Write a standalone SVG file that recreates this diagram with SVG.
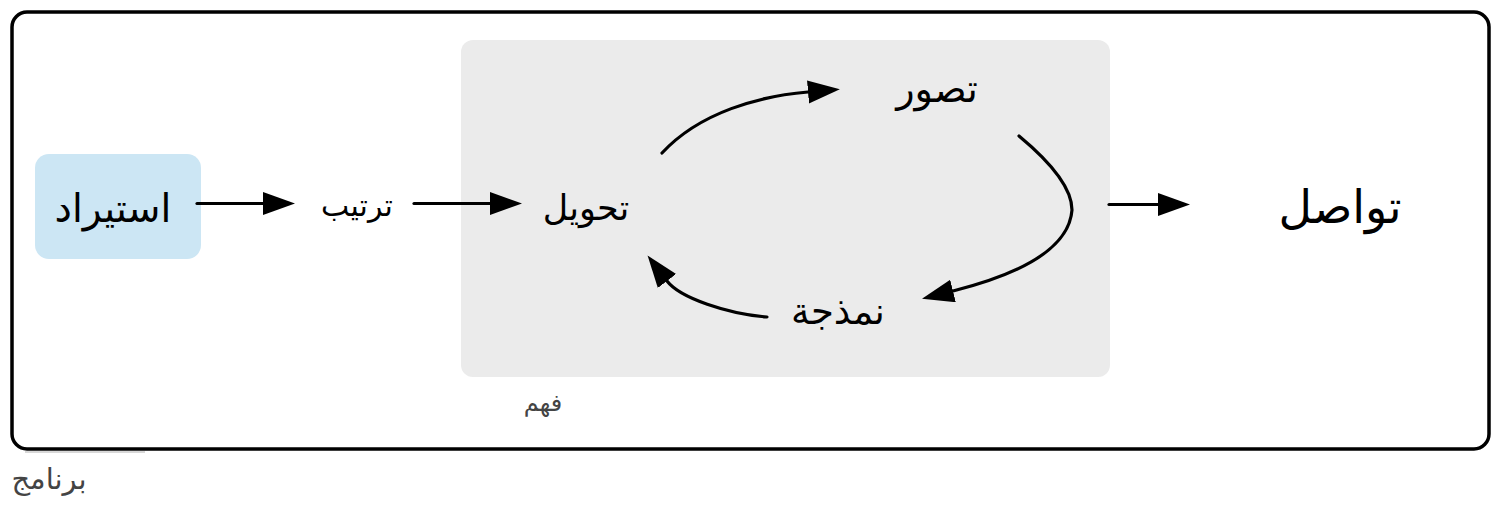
<svg xmlns="http://www.w3.org/2000/svg" width="1504" height="508" viewBox="0 0 1504 508">
<style>
.lbl{font-family:"DejaVu Sans","Noto Sans",sans-serif;fill:#000;text-anchor:middle;direction:rtl}
.cap{font-family:"DejaVu Sans","Noto Sans",sans-serif;fill:#444;text-anchor:middle;direction:rtl}
.edge{fill:none;stroke:#000;stroke-width:3.2;stroke-linecap:round}
</style>
<defs>
<marker id="ah" markerUnits="userSpaceOnUse" markerWidth="34" markerHeight="24" refX="0" refY="11.5" orient="auto" viewBox="0 0 34 24">
<path d="M0,0 L32,11.5 L0,23 z" fill="#000"/>
</marker>
</defs>
<rect width="1504" height="508" fill="#fff"/>
<g id="program">
<rect x="12" y="12" width="1477" height="437" rx="15" fill="#fff" stroke="#000" stroke-width="3.5"/>
<line x1="25" y1="452" x2="145" y2="452" stroke="#d8d8d8" stroke-width="2"/>
<text class="cap" x="49" y="489" font-size="29">برنامج</text>
</g>
<g id="understand">
<rect x="461" y="40" width="649" height="337" rx="12" fill="#ebebeb"/>
<text class="cap" x="543" y="411" font-size="24">فهم</text>
</g>
<g id="import">
<rect x="35" y="154" width="166" height="105" rx="14" fill="#cce6f4"/>
<text class="lbl" x="113" y="222" font-size="39">استيراد</text>
</g>
<g id="tidy">
<text class="lbl" x="357" y="216" font-size="30">ترتيب</text>
</g>
<g id="transform">
<text class="lbl" x="586" y="220" font-size="35">تحويل</text>
</g>
<g id="visualize">
<text class="lbl" x="937" y="102" font-size="38">تصور</text>
</g>
<g id="model">
<text class="lbl" x="838" y="324" font-size="37">نمذجة</text>
</g>
<g id="communicate">
<text class="lbl" x="1340" y="223" font-size="46">تواصل</text>
</g>
<g id="connectors">
<path class="edge" d="M197,203.5 L263,203.5" marker-end="url(#ah)"/>
<path class="edge" d="M414,203.5 L490,203.5" marker-end="url(#ah)"/>
<path class="edge" d="M1109,204.5 L1158,204.5" marker-end="url(#ah)"/>
<path class="edge" d="M662,153 C700,112 760,96 808,92" marker-end="url(#ah)"/>
<path class="edge" d="M1019,136 Q1072,180 1072,210 Q1068,262 953,291" marker-end="url(#ah)"/>
<path class="edge" d="M767,317 C728,314 680,298 667,281" marker-end="url(#ah)"/>
</g>
</svg>
